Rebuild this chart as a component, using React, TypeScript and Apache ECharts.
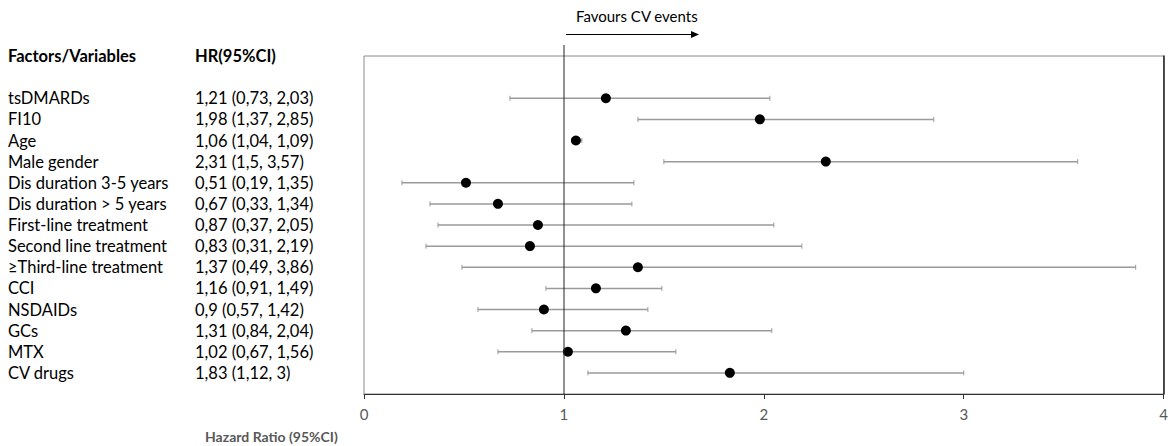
import React, { useEffect, useRef } from "react";
import * as echarts from "echarts";

const factors = [
  "tsDMARDs", "FI10", "Age", "Male gender", "Dis duration 3-5 years", "Dis duration > 5 years",
  "First-line treatment", "Second line treatment", "≥Third-line treatment", "CCI", "NSDAIDs",
  "GCs", "MTX", "CV drugs",
];
const hrLabels = [
  "1,21 (0,73, 2,03)", "1,98 (1,37, 2,85)", "1,06 (1,04, 1,09)", "2,31 (1,5, 3,57)",
  "0,51 (0,19, 1,35)", "0,67 (0,33, 1,34)", "0,87 (0,37, 2,05)", "0,83 (0,31, 2,19)",
  "1,37 (0,49, 3,86)", "1,16 (0,91, 1,49)", "0,9 (0,57, 1,42)", "1,31 (0,84, 2,04)",
  "1,02 (0,67, 1,56)", "1,83 (1,12, 3)",
];
const hr = [1.21, 1.98, 1.06, 2.31, 0.51, 0.67, 0.87, 0.83, 1.37, 1.16, 0.9, 1.31, 1.02, 1.83];
const lower = [0.73, 1.37, 1.04, 1.5, 0.19, 0.33, 0.37, 0.31, 0.49, 0.91, 0.57, 0.84, 0.67, 1.12];
const upper = [2.03, 2.85, 1.09, 3.57, 1.35, 1.34, 2.05, 2.19, 3.86, 1.49, 1.42, 2.04, 1.56, 3];
const xTicks = [0, 1, 2, 3, 4];

const FONT = "Lato, 'Open Sans', sans-serif";
const FS = 16.5;

export default function App() {
  const ref = useRef<HTMLDivElement>(null);
  useEffect(() => {
    if (!ref.current) return;
    const chart = echarts.init(ref.current, null, { renderer: "svg" });
    const data = hr.map((v, i) => [v, i, lower[i], upper[i]]);
    chart.setOption({
      animation: false,
      grid: { left: 364, right: 7, top: 56, bottom: 52, show: true, borderColor: "#8a8a8a", borderWidth: 1 },
      xAxis: {
        type: "value", min: xTicks[0], max: xTicks[xTicks.length - 1], interval: 1,
        axisLine: { show: true, onZero: false, lineStyle: { color: "#333", width: 1 } },
        axisTick: { show: true, length: 5, inside: false, lineStyle: { color: "#333" } },
        axisLabel: { color: "#595959", fontSize: 15, fontFamily: FONT, margin: 12 },
        splitLine: { show: false },
      },
      yAxis: {
        type: "value", min: -2, max: 14, inverse: true, position: "right",
        axisLine: { show: true, onZero: false, lineStyle: { color: "#222", width: 1.5 } },
        axisTick: { show: false }, axisLabel: { show: false }, splitLine: { show: false },
      },
      series: [
        {
          type: "custom",
          clip: false,
          data,
          renderItem: (params: any, api: any) => {
            const i = api.value(1);
            const c = api.coord([api.value(0), i]);
            const lo = api.coord([api.value(2), i]);
            const hi = api.coord([api.value(3), i]);
            const y = c[1];
            return {
              type: "group",
              children: [
                { type: "line", shape: { x1: lo[0], y1: y, x2: hi[0], y2: y }, style: { stroke: "#9a9a9a", lineWidth: 1.5 } },
                { type: "line", shape: { x1: lo[0], y1: y - 2.5, x2: lo[0], y2: y + 2.5 }, style: { stroke: "#9a9a9a", lineWidth: 1 } },
                { type: "line", shape: { x1: hi[0], y1: y - 2.5, x2: hi[0], y2: y + 2.5 }, style: { stroke: "#9a9a9a", lineWidth: 1 } },
                { type: "circle", shape: { cx: c[0], cy: y, r: 5 }, style: { fill: "#000" }, z2: 10 },
                { type: "text", x: 8, y, style: { text: factors[i], fill: "#000", font: `${FS}px ${FONT}`, verticalAlign: "middle" } },
                { type: "text", x: 195, y, style: { text: hrLabels[i], fill: "#000", font: `${FS}px ${FONT}`, verticalAlign: "middle" } },
              ],
            };
          },
        },
      ],
      graphic: [
        { type: "text", left: 8, top: 47, style: { text: "Factors/Variables", fill: "#000", font: `bold ${FS}px ${FONT}` } },
        { type: "text", left: 195, top: 47, style: { text: "HR(95%CI)", fill: "#000", font: `bold ${FS}px ${FONT}` } },
        { type: "line", shape: { x1: 564, y1: 45, x2: 564, y2: 394 }, style: { stroke: "#222", lineWidth: 1 }, z: 10 },
        { type: "line", shape: { x1: 566, y1: 34.5, x2: 692, y2: 34.5 }, style: { stroke: "#000", lineWidth: 1 } },
        { type: "polygon", shape: { points: [[691, 31], [699, 34.5], [691, 38]] }, style: { fill: "#000" } },
        { type: "text", left: 576, top: 8, style: { text: "Favours CV events", fill: "#000", font: `15px ${FONT}` } },
        { type: "text", left: 205, top: 429, style: { text: "Hazard Ratio (95%CI)", fill: "#595959", font: `bold 14px ${FONT}` } },
      ],
    });
    return () => chart.dispose();
  }, []);
  return <div ref={ref} style={{ width: 1171, height: 446, position: "absolute", left: 0, top: 0 }} />;
}
